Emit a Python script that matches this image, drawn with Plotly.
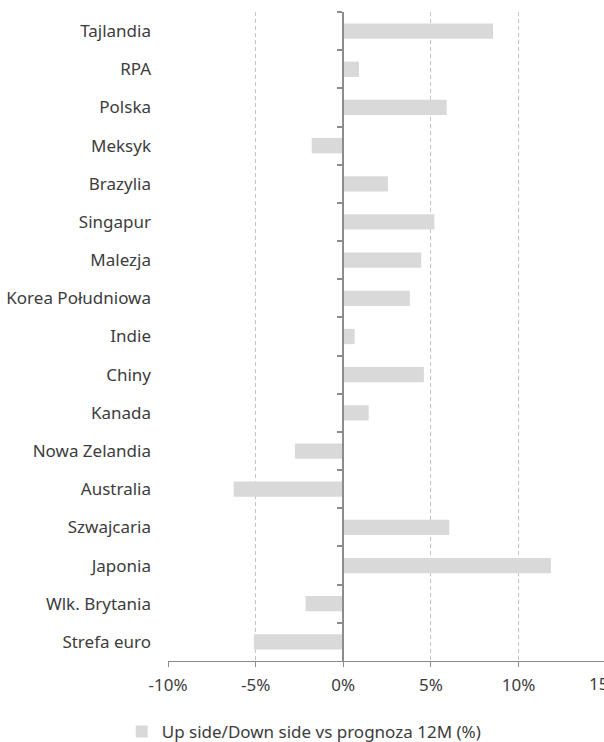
import plotly.graph_objects as go

# Countries listed top to bottom, with the upside/downside vs the 12M forecast (%)
countries = [
    "Tajlandia", "RPA", "Polska", "Meksyk", "Brazylia", "Singapur", "Malezja",
    "Korea Południowa", "Indie", "Chiny", "Kanada", "Nowa Zelandia", "Australia",
    "Szwajcaria", "Japonia", "Wlk. Brytania", "Strefa euro",
]
upside = [
    8.55, 0.9, 5.9, -1.8, 2.55, 5.2, 4.45,
    3.8, 0.65, 4.6, 1.45, -2.75, -6.25,
    6.05, 11.85, -2.15, -5.1,
]
series_name = "Up side/Down side vs prognoza 12M (%)"
x_ticks = [-10, -5, 0, 5, 10, 15]
x_tick_text = ["-10%", "-5%", "0%", "5%", "10%", "15%"]

X_MIN, X_MAX = -10, 14.88
FONT = dict(family="Noto Sans", size=17, color="#3c3c3c")
AXIS_GREY = "#8c8c8c"
BAR_GREY = "#d9d9d9"

fig = go.Figure()
fig.add_trace(go.Bar(
    x=upside, y=countries, orientation="h",
    marker=dict(color=BAR_GREY, line=dict(width=0)),
    name=series_name, showlegend=True,
))
# invisible helper trace so the zero-position category axis is drawn
fig.add_trace(go.Scatter(
    x=[0] * len(countries), y=countries, yaxis="y2",
    mode="markers", marker=dict(opacity=0, size=1), showlegend=False, hoverinfo="skip",
))

visible_ticks = [v for v in x_ticks if X_MIN <= v <= X_MAX]
cat_range = [len(countries) - 0.5, -0.5]  # first country at the top

fig.update_layout(
    width=604, height=742,
    margin=dict(l=168, r=0, t=12, b=81, autoexpand=False),
    paper_bgcolor="white", plot_bgcolor="white",
    font=FONT,
    bargap=0.6,
    xaxis=dict(
        range=[X_MIN, X_MAX],
        tickvals=visible_ticks,
        ticktext=[x_tick_text[x_ticks.index(v)] for v in visible_ticks],
        showgrid=True, gridcolor="#c4c4c4", griddash="4px,3px", gridwidth=1,
        zeroline=False,
        showline=True, linecolor=AXIS_GREY, linewidth=1,
        ticks="outside", ticklen=5, tickcolor=AXIS_GREY,
        ticklabelstandoff=4,
        tickfont=FONT,
    ),
    yaxis=dict(
        type="category",
        categoryorder="array", categoryarray=countries,
        range=cat_range,
        showgrid=False, zeroline=False, showline=False, ticks="",
        ticklabelstandoff=16,
        tickfont=FONT,
    ),
    yaxis2=dict(
        type="category",
        categoryorder="array", categoryarray=countries,
        matches="y", overlaying="y", anchor="free",
        range=cat_range,
        position=(0 - X_MIN) / (X_MAX - X_MIN),
        showgrid=False, zeroline=False,
        showline=True, linecolor=AXIS_GREY, linewidth=1.5,
        ticks="outside", ticklen=5, tickcolor=AXIS_GREY, tickwidth=1.5,
        tickson="boundaries", showticklabels=False,
    ),
    legend=dict(
        orientation="h",
        xref="container", x=0.2015, xanchor="left",
        yref="container", y=0.0135, yanchor="middle",
        font=FONT, itemwidth=30,
        bgcolor="rgba(0,0,0,0)",
    ),
    showlegend=True,
)

# the last tick label sits past the right edge of the plot area
fig.add_annotation(
    x=(x_ticks[-1] - X_MIN) / (X_MAX - X_MIN), xref="paper", xanchor="center",
    y=0, yref="paper", yanchor="top", yshift=-9,
    text=x_tick_text[-1], showarrow=False, font=FONT,
)

fig.write_html("out.html")
